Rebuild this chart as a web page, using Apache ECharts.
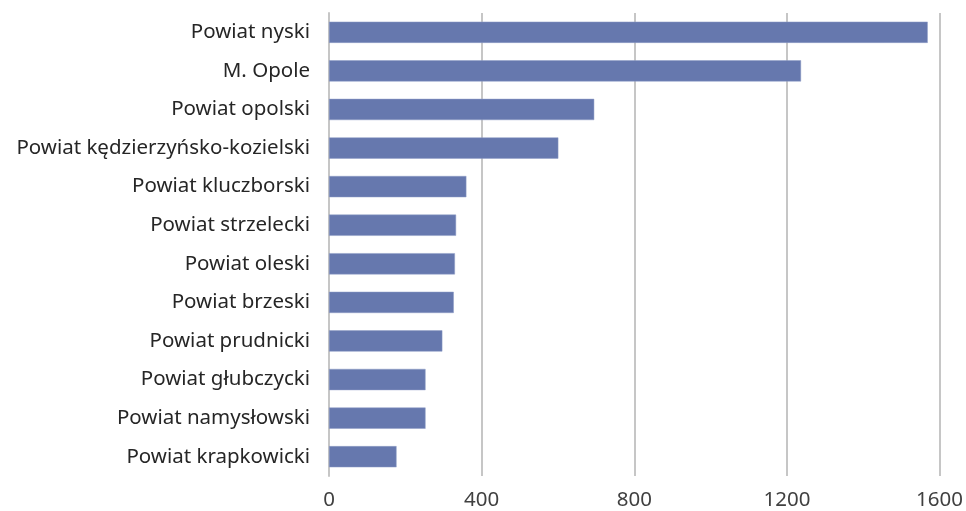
<!DOCTYPE html>
<html><head><meta charset="utf-8">
<script src="https://cdn.jsdelivr.net/npm/echarts@6/dist/echarts.min.js"></script>
<style>html,body{margin:0;padding:0;background:#fff}#c{width:966px;height:511px}</style>
</head><body><div id="c"></div>
<script>
const categories = ["Powiat nyski","M. Opole","Powiat opolski","Powiat kędzierzyńsko-kozielski","Powiat kluczborski","Powiat strzelecki","Powiat oleski","Powiat brzeski","Powiat prudnicki","Powiat głubczycki","Powiat namysłowski","Powiat krapkowicki"];
const values = [1569,1237,695,601,360,333,330,327,297,253,253,177];
const xTicks = [0,400,800,1200,1600];

const chart = echarts.init(document.getElementById('c'), null, {renderer:'canvas'});
chart.setOption({
  animation:false,
  grid:{left:329,right:19,top:13,bottom:35,containLabel:false},
  xAxis:{type:'value',min:xTicks[0],max:xTicks[xTicks.length-1],interval:400,
    axisLine:{show:false},axisTick:{show:false},
    axisLabel:{color:'#404040',fontSize:20.5,fontFamily:'Noto Sans',margin:14,formatter:v=>String(v)},
    splitLine:{lineStyle:{color:'#c6c6c6',width:2}}},
  yAxis:{type:'category',data:categories,inverse:true,
    axisLine:{show:true,lineStyle:{color:'#c6c6c6',width:2}},axisTick:{show:false},
    axisLabel:{color:'#262626',fontSize:20.5,fontFamily:'Noto Sans',margin:19}},
  series:[{type:'bar',data:values,barCategoryGap:'45%',
    itemStyle:{color:'#6678ae',borderColor:'#8f9cc6',borderWidth:0.5}}]
});
</script></body></html>
